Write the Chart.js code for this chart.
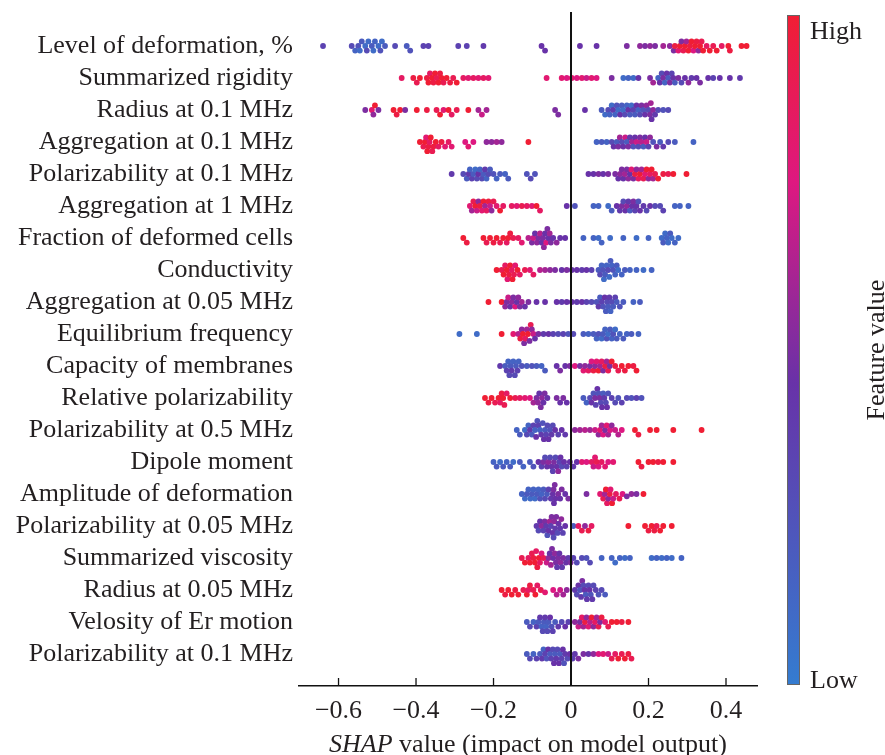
<!DOCTYPE html>
<html>
<head>
<meta charset="utf-8">
<script src="https://cdn.jsdelivr.net/npm/chart.js@4.4.1/dist/chart.umd.min.js"></script>
<style>
  body { margin: 0; background: #fff; }
</style>
</head>
<body>
<canvas id="shapChart" width="885" height="755"></canvas>
<script>
// feature names, top to bottom
var features = [
  "Level of deformation, %", "Summarized rigidity", "Radius at 0.1 MHz",
  "Aggregation at 0.1 MHz", "Polarizability at 0.1 MHz", "Aggregation at 1 MHz",
  "Fraction of deformed cells", "Conductivity", "Aggregation at 0.05 MHz",
  "Equilibrium frequency", "Capacity of membranes", "Relative polarizability",
  "Polarizability at 0.5 MHz", "Dipole moment", "Amplitude of deformation",
  "Polarizability at 0.05 MHz", "Summarized viscosity", "Radius at 0.05 MHz",
  "Velosity of Er motion", "Polarizability at 0.1 MHz"
];

var xTicks = [-0.6, -0.4, -0.2, 0, 0.2, 0.4];

// points: [SHAP value, feature value (0 = low, 1 = high)]
var levelOfDeformation = [[-0.64,0.35],[-0.566,0.3],[-0.557,0.15],[-0.549,0.25],[-0.545,0.1],[-0.54,0.2],[-0.531,0.1],[-0.527,0.3],[-0.523,0.1],[-0.514,0.2],[-0.51,0.1],[-0.506,0.15],[-0.497,0.1],[-0.492,0.25],[-0.488,0.1],[-0.48,0.2],[-0.454,0.3],[-0.424,0.2],[-0.415,0.25],[-0.381,0.35],[-0.368,0.35],[-0.291,0.35],[-0.269,0.35],[-0.226,0.4],[-0.076,0.45],[-0.067,0.45],
  [0.023,0.45],[0.066,0.45],[0.144,0.5],[0.178,0.55],[0.191,0.5],[0.204,0.55],[0.217,0.5],[0.238,0.6],[0.255,0.55],[0.265,0.5],[0.268,0.95],[0.277,0.8],[0.281,1],[0.285,0.5],[0.29,0.9],[0.294,1],[0.298,0.6],[0.303,1],[0.307,0.95],[0.311,1],[0.316,0.75],[0.32,1],[0.324,0.95],[0.329,0.55],[0.333,1],[0.337,0.9],[0.341,1],[0.35,0.85],[0.358,1],[0.367,0.9],[0.376,1],[0.389,0.85],[0.406,1],[0.41,0.95],[0.44,1],[0.453,1]];
var summarizedRigidity = [[-0.437,0.85],[-0.407,0.95],[-0.398,0.9],[-0.39,1],[-0.372,0.95],[-0.368,1],[-0.364,0.85],[-0.359,1],[-0.355,0.95],[-0.351,1],[-0.347,0.9],[-0.342,1],[-0.338,0.95],[-0.334,1],[-0.329,0.9],[-0.321,1],[-0.312,0.95],[-0.304,0.9],[-0.295,1],[-0.278,0.85],[-0.265,0.8],[-0.252,0.85],[-0.239,0.8],[-0.226,0.85],[-0.213,0.8],
  [-0.063,0.8],[-0.024,0.8],[-0.011,0.75],[0.002,0.8],[0.015,0.75],[0.028,0.8],[0.04,0.7],[0.053,0.8],[0.066,0.75],[0.105,0.5],[0.135,0.1],[0.148,0.15],[0.161,0.1],[0.174,0.45],[0.204,0.5],[0.212,0.6],[0.225,0.15],[0.229,0.45],[0.234,0.3],[0.238,0.5],[0.242,0.15],[0.247,0.45],[0.251,0.2],[0.255,0.5],[0.26,0.35],[0.264,0.45],[0.268,0.2],[0.277,0.5],[0.285,0.3],[0.294,0.45],[0.303,0.55],[0.311,0.4],[0.324,0.45],[0.333,0.5],[0.354,0.45],[0.367,0.35],[0.384,0.45],[0.41,0.45],[0.436,0.4]];
var radius01 = [[-0.531,0.5],[-0.514,0.8],[-0.51,0.55],[-0.506,1],[-0.497,0.5],[-0.458,1],[-0.45,0.95],[-0.441,1],[-0.428,0.5],[-0.398,1],[-0.372,0.95],[-0.347,0.9],[-0.338,1],[-0.329,0.8],[-0.316,1],[-0.308,0.85],[-0.295,0.9],[-0.265,1],[-0.239,0.6],[-0.23,0.7],[-0.218,0.6],[-0.041,0.5],[-0.033,0.5],
  [0.036,0.45],[0.079,0.2],[0.088,0.1],[0.096,0.3],[0.1,0.15],[0.105,0.1],[0.109,0.4],[0.114,0.15],[0.118,0.25],[0.122,0.1],[0.127,0.45],[0.131,0.2],[0.135,0.1],[0.139,0.3],[0.144,0.15],[0.148,0.45],[0.152,0.2],[0.156,0.1],[0.161,0.35],[0.165,0.2],[0.169,0.45],[0.174,0.15],[0.178,0.3],[0.182,0.5],[0.187,0.25],[0.191,0.45],[0.195,0.55],[0.2,0.3],[0.204,0.5],[0.206,0.6],[0.208,0.45],[0.212,0.55],[0.217,0.4],[0.225,0.3],[0.238,0.25],[0.251,0.3]];
var aggregation01 = [[-0.39,1],[-0.381,0.9],[-0.377,1],[-0.374,0.8],[-0.371,1],[-0.368,0.95],[-0.365,0.85],[-0.362,1],[-0.358,0.9],[-0.355,0.95],[-0.349,1],[-0.342,0.85],[-0.334,0.95],[-0.325,0.8],[-0.316,0.85],[-0.308,0.8],[-0.273,0.75],[-0.265,0.8],[-0.252,0.75],[-0.218,0.55],[-0.205,0.55],[-0.192,0.6],[-0.179,0.55],[-0.11,1],
  [0.066,0.15],[0.079,0.2],[0.092,0.15],[0.105,0.3],[0.11,0.45],[0.118,0.2],[0.122,0.5],[0.126,0.6],[0.131,0.3],[0.135,0.45],[0.14,0.7],[0.144,0.2],[0.148,0.5],[0.152,0.4],[0.157,0.6],[0.161,0.25],[0.165,0.45],[0.169,0.7],[0.174,0.3],[0.178,0.5],[0.182,0.65],[0.187,0.2],[0.191,0.45],[0.195,0.7],[0.2,0.35],[0.204,0.55],[0.212,0.25],[0.221,0.5],[0.23,0.2],[0.238,0.4],[0.251,0.3],[0.268,0.2],[0.316,0.15]];
var polarizability01a = [[-0.308,0.4],[-0.278,0.3],[-0.269,0.2],[-0.264,0.4],[-0.261,0.15],[-0.256,0.35],[-0.252,0.2],[-0.247,0.1],[-0.243,0.3],[-0.239,0.45],[-0.235,0.15],[-0.23,0.3],[-0.226,0.2],[-0.222,0.4],[-0.218,0.15],[-0.213,0.3],[-0.209,0.2],[-0.2,0.25],[-0.192,0.15],[-0.183,0.2],[-0.17,0.15],[-0.162,0.2],[-0.114,0.25],[-0.104,0.3],[-0.093,0.25],
  [0.045,0.45],[0.058,0.45],[0.071,0.5],[0.083,0.45],[0.096,0.5],[0.114,0.5],[0.122,0.45],[0.127,0.55],[0.131,0.5],[0.135,0.45],[0.139,0.6],[0.144,0.5],[0.148,0.55],[0.152,0.45],[0.156,0.8],[0.161,0.5],[0.165,0.95],[0.169,0.55],[0.174,0.85],[0.178,1],[0.182,0.6],[0.187,0.9],[0.191,0.8],[0.195,1],[0.2,0.55],[0.204,0.85],[0.208,1],[0.212,0.6],[0.217,0.9],[0.225,1],[0.238,0.95],[0.251,0.9],[0.264,1],[0.298,1]];
var aggregation1 = [[-0.261,0.8],[-0.256,0.6],[-0.252,0.9],[-0.247,1],[-0.243,0.7],[-0.239,0.55],[-0.235,0.95],[-0.23,0.8],[-0.226,1],[-0.222,0.6],[-0.218,0.85],[-0.213,0.95],[-0.209,0.7],[-0.205,0.55],[-0.2,0.9],[-0.192,0.8],[-0.183,1],[-0.175,0.85],[-0.153,0.85],[-0.14,0.8],[-0.127,0.9],[-0.114,0.85],[-0.101,0.8],[-0.089,1],[-0.08,0.85],
  [-0.011,0.45],[0.01,0.25],[0.058,0.15],[0.071,0.15],[0.096,0.1],[0.105,0.2],[0.118,0.45],[0.126,0.4],[0.131,0.5],[0.135,0.3],[0.14,0.45],[0.144,0.55],[0.148,0.4],[0.152,0.2],[0.157,0.45],[0.161,0.5],[0.165,0.35],[0.169,0.45],[0.174,0.25],[0.178,0.45],[0.187,0.4],[0.195,0.3],[0.204,0.45],[0.217,0.3],[0.23,0.3],[0.238,0.35],[0.268,0.15],[0.281,0.15],[0.303,0.15]];
var fractionDeformed = [[-0.278,1],[-0.269,0.95],[-0.226,1],[-0.218,0.9],[-0.209,1],[-0.2,0.95],[-0.192,1],[-0.183,0.9],[-0.175,1],[-0.166,0.85],[-0.162,1],[-0.157,0.95],[-0.149,0.9],[-0.136,0.85],[-0.127,0.8],[-0.11,0.65],[-0.101,0.5],[-0.097,0.7],[-0.093,0.45],[-0.088,0.55],[-0.084,0.5],[-0.08,0.65],[-0.076,0.45],[-0.072,0.5],[-0.07,0.55],[-0.067,0.45],[-0.064,0.75],[-0.061,0.5],[-0.058,0.45],[-0.055,0.6],[-0.052,0.5],[-0.046,0.45],[-0.037,0.55],[-0.028,0.45],[-0.015,0.45],
  [0.032,0.15],[0.058,0.15],[0.071,0.1],[0.079,0.15],[0.101,0.1],[0.135,0.15],[0.169,0.1],[0.2,0.15],[0.234,0.1],[0.238,0.2],[0.243,0.1],[0.247,0.15],[0.251,0.1],[0.256,0.2],[0.26,0.1],[0.268,0.15],[0.277,0.1]];
var conductivity = [[-0.192,1],[-0.179,0.9],[-0.174,1],[-0.17,0.85],[-0.166,1],[-0.164,0.8],[-0.16,0.95],[-0.157,1],[-0.153,0.85],[-0.151,1],[-0.147,0.9],[-0.144,0.8],[-0.138,1],[-0.132,0.85],[-0.119,0.9],[-0.106,0.8],[-0.097,0.85],[-0.08,0.65],[-0.067,0.6],[-0.054,0.55],[-0.041,0.5],[-0.024,0.45],[-0.011,0.5],[0.002,0.45],[0.015,0.45],[0.028,0.4],[0.04,0.45],[0.053,0.35],
  [0.071,0.2],[0.075,0.3],[0.079,0.15],[0.083,0.25],[0.085,0.1],[0.088,0.2],[0.092,0.15],[0.096,0.3],[0.099,0.1],[0.102,0.2],[0.105,0.15],[0.109,0.25],[0.114,0.15],[0.118,0.2],[0.122,0.1],[0.131,0.15],[0.139,0.2],[0.152,0.15],[0.169,0.15],[0.187,0.1],[0.208,0.15]];
var aggregation005 = [[-0.213,1],[-0.179,1],[-0.17,0.55],[-0.166,0.5],[-0.162,0.7],[-0.157,0.45],[-0.153,0.55],[-0.149,0.5],[-0.144,0.75],[-0.14,0.45],[-0.136,0.55],[-0.132,0.5],[-0.127,0.6],[-0.119,0.45],[-0.11,0.5],[-0.089,0.45],[-0.067,0.45],[-0.037,0.45],[-0.024,0.4],[-0.011,0.45],[0.002,0.45],[0.015,0.4],[0.028,0.45],[0.04,0.35],
  [0.053,0.3],[0.066,0.25],[0.071,0.4],[0.075,0.2],[0.079,0.35],[0.083,0.25],[0.087,0.45],[0.09,0.2],[0.093,0.3],[0.096,0.2],[0.099,0.4],[0.102,0.15],[0.105,0.3],[0.109,0.2],[0.114,0.35],[0.118,0.2],[0.126,0.25],[0.135,0.2],[0.161,0.15],[0.178,0.2]];
var equilibriumFrequency = [[-0.288,0.1],[-0.243,0.1],[-0.179,1],[-0.149,0.8],[-0.136,0.65],[-0.131,0.95],[-0.127,0.55],[-0.124,1],[-0.121,0.5],[-0.118,0.85],[-0.114,0.6],[-0.111,1],[-0.107,0.5],[-0.104,0.9],[-0.101,0.55],[-0.097,0.7],[-0.093,0.45],[-0.084,0.5],[-0.071,0.4],[-0.058,0.45],[-0.046,0.35],[-0.033,0.3],[-0.02,0.35],[-0.007,0.25],[0.006,0.3],
  [0.032,0.2],[0.045,0.15],[0.058,0.2],[0.066,0.15],[0.071,0.25],[0.079,0.1],[0.083,0.2],[0.088,0.15],[0.092,0.25],[0.096,0.1],[0.101,0.2],[0.105,0.15],[0.109,0.25],[0.114,0.1],[0.118,0.2],[0.126,0.15],[0.135,0.2],[0.144,0.15],[0.156,0.2],[0.174,0.15]];
var capacityMembranes = [[-0.183,0.4],[-0.17,0.2],[-0.166,0.35],[-0.162,0.15],[-0.159,0.3],[-0.156,0.2],[-0.153,0.4],[-0.149,0.15],[-0.145,0.3],[-0.142,0.2],[-0.138,0.35],[-0.135,0.15],[-0.127,0.25],[-0.114,0.2],[-0.101,0.25],[-0.089,0.2],[-0.076,0.15],[-0.067,0.2],[-0.037,0.45],[-0.028,0.5],[-0.015,0.45],[-0.003,0.5],
  [0.01,0.75],[0.023,0.5],[0.032,0.8],[0.036,0.55],[0.045,0.85],[0.049,0.5],[0.053,0.75],[0.058,0.95],[0.062,0.55],[0.066,0.8],[0.071,1],[0.075,0.6],[0.079,0.85],[0.083,0.5],[0.088,0.95],[0.092,0.6],[0.096,0.9],[0.1,0.5],[0.105,1],[0.114,0.95],[0.122,0.9],[0.131,1],[0.139,0.95],[0.148,1],[0.161,0.95],[0.169,1]];
var relativePolarizability = [[-0.222,1],[-0.213,0.95],[-0.205,1],[-0.196,0.9],[-0.187,1],[-0.183,0.85],[-0.179,0.95],[-0.175,1],[-0.172,0.9],[-0.166,0.85],[-0.157,1],[-0.144,0.9],[-0.132,0.85],[-0.119,0.8],[-0.106,0.75],[-0.097,0.6],[-0.089,0.5],[-0.085,0.55],[-0.082,0.45],[-0.078,0.5],[-0.075,0.55],[-0.071,0.45],[-0.068,0.5],[-0.061,0.45],[-0.037,0.5],[-0.028,0.45],[-0.02,0.5],[-0.011,0.45],
  [0.032,0.2],[0.04,0.15],[0.049,0.3],[0.053,0.45],[0.058,0.25],[0.062,0.5],[0.064,0.35],[0.068,0.45],[0.071,0.25],[0.074,0.5],[0.077,0.3],[0.08,0.45],[0.083,0.2],[0.086,0.4],[0.09,0.3],[0.093,0.45],[0.096,0.25],[0.105,0.35],[0.114,0.3],[0.122,0.25],[0.131,0.35],[0.144,0.3],[0.156,0.25],[0.169,0.35],[0.182,0.25]];
var polarizability05 = [[-0.14,0.15],[-0.132,0.2],[-0.119,0.1],[-0.114,0.3],[-0.11,0.15],[-0.106,0.4],[-0.101,0.2],[-0.097,0.35],[-0.093,0.15],[-0.09,0.45],[-0.087,0.25],[-0.084,0.35],[-0.08,0.15],[-0.077,0.4],[-0.073,0.25],[-0.07,0.45],[-0.067,0.2],[-0.064,0.35],[-0.061,0.3],[-0.058,0.45],[-0.054,0.25],[-0.05,0.4],[-0.047,0.3],[-0.041,0.45],[-0.033,0.35],[-0.024,0.45],[-0.015,0.4],
  [0.01,0.55],[0.023,0.6],[0.036,0.65],[0.049,0.6],[0.062,0.7],[0.071,0.55],[0.075,0.8],[0.079,0.6],[0.083,0.75],[0.088,0.5],[0.092,0.8],[0.096,0.6],[0.101,0.75],[0.105,0.55],[0.114,0.7],[0.122,0.65],[0.131,0.75],[0.165,1],[0.174,0.95],[0.204,1],[0.221,1],[0.264,1],[0.337,1]];
var dipoleMoment = [[-0.2,0.15],[-0.192,0.2],[-0.183,0.1],[-0.175,0.2],[-0.166,0.15],[-0.157,0.2],[-0.149,0.1],[-0.132,0.2],[-0.123,0.15],[-0.106,0.2],[-0.097,0.25],[-0.084,0.45],[-0.076,0.35],[-0.071,0.5],[-0.067,0.3],[-0.062,0.45],[-0.058,0.55],[-0.054,0.3],[-0.05,0.45],[-0.047,0.35],[-0.044,0.5],[-0.04,0.3],[-0.037,0.45],[-0.033,0.55],[-0.03,0.35],[-0.027,0.45],[-0.024,0.3],[-0.018,0.45],[-0.011,0.35],[-0.003,0.45],[0.006,0.4],[0.015,0.45],
  [0.028,0.8],[0.04,0.75],[0.053,0.85],[0.058,0.7],[0.062,0.8],[0.066,0.9],[0.071,0.75],[0.079,0.85],[0.088,0.8],[0.096,0.75],[0.109,0.8],[0.174,1],[0.182,0.95],[0.2,1],[0.212,1],[0.225,0.95],[0.238,1],[0.264,1]];
var amplitudeDeformation = [[-0.127,0.15],[-0.119,0.1],[-0.114,0.2],[-0.11,0.15],[-0.105,0.1],[-0.101,0.2],[-0.097,0.15],[-0.093,0.1],[-0.088,0.2],[-0.084,0.15],[-0.08,0.25],[-0.076,0.15],[-0.071,0.2],[-0.067,0.3],[-0.062,0.2],[-0.058,0.35],[-0.052,0.4],[-0.047,0.45],[-0.045,0.5],[-0.044,0.45],[-0.042,0.5],[-0.04,0.45],[-0.033,0.5],[-0.028,0.45],[-0.024,0.5],[-0.015,0.45],[-0.007,0.5],
  [0.04,0.5],[0.075,0.8],[0.083,0.9],[0.087,0.6],[0.09,1],[0.093,0.85],[0.096,0.55],[0.1,0.95],[0.102,0.8],[0.106,1],[0.109,0.7],[0.116,0.85],[0.125,0.9],[0.133,0.75],[0.144,0.5],[0.156,0.55],[0.169,0.5],[0.187,1]];
var polarizability005 = [[-0.089,0.4],[-0.084,0.3],[-0.08,0.45],[-0.076,0.55],[-0.071,0.35],[-0.068,0.5],[-0.064,0.4],[-0.061,0.25],[-0.058,0.45],[-0.055,0.6],[-0.052,0.35],[-0.05,0.5],[-0.047,0.45],[-0.045,0.3],[-0.043,0.55],[-0.041,0.4],[-0.038,0.5],[-0.035,0.3],[-0.032,0.45],[-0.028,0.4],[-0.025,0.55],[-0.021,0.35],[-0.015,0.45],[0.006,0.2],
  [0.019,0.85],[0.028,0.9],[0.036,0.55],[0.045,0.95],[0.053,0.85],[0.148,1],[0.191,1],[0.2,0.95],[0.208,1],[0.215,0.95],[0.221,0.9],[0.23,1],[0.238,1],[0.26,1]];
var summarizedViscosity = [[-0.127,0.9],[-0.119,1],[-0.11,0.85],[-0.106,1],[-0.101,0.9],[-0.097,0.95],[-0.093,1],[-0.09,0.85],[-0.087,0.95],[-0.083,1],[-0.08,0.85],[-0.076,0.75],[-0.071,0.9],[-0.063,0.7],[-0.058,0.55],[-0.055,0.45],[-0.052,0.6],[-0.049,0.5],[-0.046,0.45],[-0.042,0.55],[-0.039,0.5],[-0.036,0.4],[-0.033,0.5],[-0.03,0.45],[-0.027,0.55],[-0.023,0.4],[-0.02,0.5],[-0.013,0.45],[-0.007,0.4],[-0.001,0.5],[0.006,0.35],
  [0.015,0.3],[0.028,0.3],[0.04,0.25],[0.049,0.3],[0.079,0.15],[0.105,0.15],[0.114,0.1],[0.126,0.15],[0.139,0.1],[0.152,0.15],[0.208,0.1],[0.221,0.15],[0.234,0.1],[0.247,0.15],[0.26,0.1],[0.285,0.15]];
var radius005 = [[-0.179,1],[-0.17,0.95],[-0.162,1],[-0.153,1],[-0.144,0.95],[-0.136,1],[-0.123,0.9],[-0.114,1],[-0.11,0.85],[-0.106,0.95],[-0.097,0.9],[-0.092,1],[-0.087,0.85],[-0.078,0.9],[-0.067,0.8],[-0.046,0.75],[-0.037,0.65],[-0.028,0.7],[-0.02,0.6],[-0.011,0.55],
  [0.01,0.4],[0.015,0.3],[0.019,0.45],[0.023,0.25],[0.026,0.4],[0.029,0.5],[0.032,0.3],[0.035,0.45],[0.038,0.2],[0.041,0.4],[0.045,0.3],[0.048,0.45],[0.051,0.25],[0.055,0.4],[0.058,0.3],[0.064,0.35],[0.071,0.25],[0.079,0.3],[0.088,0.2]];
var velosityEr = [[-0.114,0.2],[-0.106,0.3],[-0.097,0.15],[-0.089,0.35],[-0.084,0.2],[-0.08,0.4],[-0.076,0.15],[-0.073,0.3],[-0.07,0.2],[-0.067,0.4],[-0.064,0.15],[-0.061,0.3],[-0.058,0.2],[-0.054,0.45],[-0.05,0.25],[-0.047,0.35],[-0.041,0.2],[-0.033,0.4],[-0.024,0.3],[-0.015,0.45],[-0.007,0.35],
  [0.01,0.55],[0.019,0.7],[0.023,0.5],[0.028,0.85],[0.032,0.6],[0.036,0.95],[0.04,0.55],[0.045,0.8],[0.049,0.65],[0.053,1],[0.058,0.55],[0.062,0.85],[0.066,0.6],[0.071,0.9],[0.075,0.5],[0.079,0.95],[0.088,0.8],[0.096,0.9],[0.105,1],[0.118,1],[0.131,0.95],[0.148,1]];
var polarizability01b = [[-0.114,0.2],[-0.106,0.3],[-0.097,0.15],[-0.089,0.35],[-0.08,0.2],[-0.075,0.4],[-0.071,0.15],[-0.067,0.35],[-0.063,0.25],[-0.059,0.45],[-0.054,0.2],[-0.051,0.35],[-0.047,0.3],[-0.044,0.45],[-0.041,0.2],[-0.038,0.4],[-0.035,0.3],[-0.031,0.45],[-0.028,0.2],[-0.024,0.35],[-0.021,0.45],[-0.018,0.25],[-0.015,0.4],[-0.009,0.3],[-0.003,0.45],[0.004,0.35],[0.01,0.4],[0.019,0.5],
  [0.032,0.5],[0.045,0.45],[0.058,0.55],[0.071,0.75],[0.083,0.8],[0.096,0.7],[0.105,0.9],[0.114,0.85],[0.122,1],[0.131,0.9],[0.139,1],[0.148,0.95],[0.156,0.9]];

var rows = [levelOfDeformation, summarizedRigidity, radius01, aggregation01,
  polarizability01a, aggregation1, fractionDeformed, conductivity, aggregation005,
  equilibriumFrequency, capacityMembranes, relativePolarizability, polarizability05,
  dipoleMoment, amplitudeDeformation, polarizability005, summarizedViscosity,
  radius005, velosityEr, polarizability01b];

var FONT = "'Liberation Serif', 'Times New Roman', serif";
var TEXT = "#231f20";

// blue -> purple -> magenta -> red
var stops = [
  [0, [52, 124, 208]],
  [0.45, [104, 50, 168]],
  [0.75, [222, 24, 128]],
  [1, [240, 30, 52]]
];
function featureColor(v) {
  for (var i = 1; i < stops.length; i++) {
    if (v <= stops[i][0]) {
      var a = stops[i - 1], b = stops[i];
      var t = (v - a[0]) / (b[0] - a[0]);
      var c = a[1].map((ch, k) => Math.round(ch + (b[1][k] - ch) * t));
      return "rgb(" + c.join(",") + ")";
    }
  }
  return "rgb(240,30,52)";
}

// simple beeswarm: stack overlapping dots vertically
var PX_PER_X = 387.6, PX_PER_ROW = 32, DOT = 4.6;
function swarm(points, rowIdx) {
  var sorted = points.slice().sort((a, b) => a[0] - b[0]);
  var placed = [];
  return sorted.map((p) => {
    var px = p[0] * PX_PER_X;
    var off = 0;
    for (var k = 0; k < 40; k++) {
      var o = (k % 2 ? 1 : -1) * Math.ceil(k / 2) * DOT * 0.5;
      var hit = placed.some((q) => Math.abs(q.px - px) < DOT && Math.hypot(q.px - px, q.py - o) < DOT);
      if (!hit) { off = o; break; }
    }
    placed.push({ px: px, py: off });
    return { x: p[0], y: rowIdx + off / PX_PER_ROW, f: p[1] };
  });
}

var datasets = rows.map((pts, i) => {
  var data = swarm(pts, i);
  return {
    data: data,
    pointBackgroundColor: data.map((d) => featureColor(d.f)),
    pointBorderWidth: 0,
    pointRadius: 2.9,
  };
});

var decorPlugin = {
  id: "decor",
  afterDatasetsDraw(chart) {
    var ctx = chart.ctx, x = chart.scales.x, area = chart.chartArea;
    ctx.save();
    // zero line
    var x0 = x.getPixelForValue(0);
    ctx.strokeStyle = "#111";
    ctx.lineWidth = 2;
    ctx.beginPath();
    ctx.moveTo(x0, 12);
    ctx.lineTo(x0, area.bottom);
    ctx.stroke();
    // inward tick marks
    ctx.lineWidth = 1.3;
    xTicks.forEach((v) => {
      var px = x.getPixelForValue(v);
      ctx.beginPath();
      ctx.moveTo(px, area.bottom);
      ctx.lineTo(px, area.bottom - 8);
      ctx.stroke();
    });
    // x title, "SHAP" in italics
    ctx.fillStyle = TEXT;
    ctx.textBaseline = "middle";
    ctx.textAlign = "left";
    var it = "italic 26px " + FONT, rg = "26px " + FONT;
    var t1 = "SHAP", t2 = " value (impact on model output)";
    ctx.font = it;
    var w1 = ctx.measureText(t1).width;
    ctx.font = rg;
    var w2 = ctx.measureText(t2).width;
    var sx = (area.left + area.right) / 2 - (w1 + w2) / 2;
    ctx.font = it;
    ctx.fillText(t1, sx, 745);
    ctx.font = rg;
    ctx.fillText(t2, sx + w1, 745);
    // colour bar
    var cbL = 787, cbT = 15, cbW = 13, cbH = 670;
    var g = ctx.createLinearGradient(0, cbT + cbH, 0, cbT);
    stops.forEach((s) => g.addColorStop(s[0], "rgb(" + s[1].join(",") + ")"));
    ctx.fillStyle = g;
    ctx.fillRect(cbL, cbT, cbW, cbH);
    ctx.strokeStyle = "#666";
    ctx.lineWidth = 1;
    ctx.strokeRect(cbL + 0.5, cbT + 0.5, cbW - 1, cbH - 1);
    ctx.fillStyle = TEXT;
    ctx.font = rg;
    ctx.fillText("High", 810, 32);
    ctx.fillText("Low", 810, 681);
    ctx.translate(877, 350);
    ctx.rotate(-Math.PI / 2);
    ctx.textAlign = "center";
    ctx.fillText("Feature value", 0, 0);
    ctx.restore();
  },
};

new Chart(document.getElementById("shapChart"), {
  type: "scatter",
  data: { datasets: datasets },
  plugins: [decorPlugin],
  options: {
    responsive: false,
    animation: false,
    layout: { padding: { left: 0, right: 128, top: 14, bottom: 0 } },
    plugins: { legend: { display: false }, tooltip: { enabled: false } },
    scales: {
      x: {
        type: "linear",
        min: -0.702,
        max: 0.48,
        afterBuildTicks: (s) => { s.ticks = xTicks.map((v) => ({ value: v })); },
        afterFit: (s) => { s.height = 69; },
        grid: { display: false },
        border: { display: true, color: "#111", width: 1.5 },
        ticks: {
          padding: 2,
          color: TEXT,
          font: { family: FONT, size: 26 },
          callback: (v) => (v < 0 ? "\u2212" + Math.abs(v).toFixed(1) : v === 0 ? "0" : v.toFixed(1)),
        },
      },
      y: {
        type: "linear",
        reverse: true,
        min: -1,
        max: 20,
        afterBuildTicks: (s) => { s.ticks = features.map((n, i) => ({ value: i })); },
        afterFit: (s) => { s.width = 299; },
        grid: { display: false },
        border: { display: false },
        ticks: {
          padding: -2,
          color: TEXT,
          font: { family: FONT, size: 26 },
          callback: (v) => features[v],
        },
      },
    },
  },
});
</script>
</body>
</html>
